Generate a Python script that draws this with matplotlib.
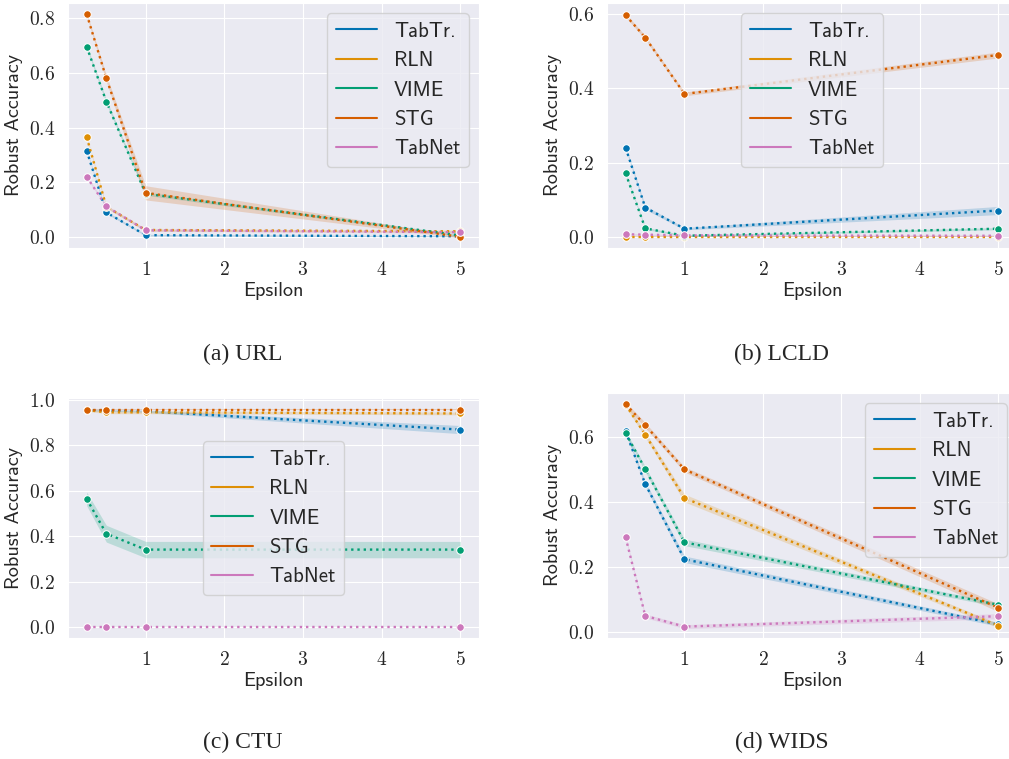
import numpy as np
import matplotlib.pyplot as plt
import seaborn as sns
from matplotlib.lines import Line2D

sns.set_style("darkgrid")
plt.rcParams["axes.formatter.use_mathtext"] = True

eps = [0.25, 0.5, 1, 5]
models = ["TabTr.", "RLN", "VIME", "STG", "TabNet"]
colors = sns.color_palette("colorblind", 5)

# robust accuracy, one row per model (TabTr., RLN, VIME, STG, TabNet)
url_acc = [[0.315, 0.089, 0.006, 0.002],
           [0.365, 0.110, 0.025, 0.020],
           [0.696, 0.495, 0.158, 0.005],
           [0.815, 0.580, 0.161, 0.000],
           [0.220, 0.111, 0.024, 0.017]]
url_ci = [[0.004, 0.004, 0.003, 0.002],
          [0.005, 0.005, 0.004, 0.004],
          [0.006, 0.008, 0.006, 0.004],
          [0.006, 0.012, 0.026, 0.004],
          [0.005, 0.005, 0.004, 0.004]]

lcld_acc = [[0.240, 0.079, 0.022, 0.071],
            [0.000, 0.000, 0.000, 0.000],
            [0.171, 0.023, 0.003, 0.022],
            [0.597, 0.537, 0.385, 0.490],
            [0.007, 0.006, 0.004, 0.003]]
lcld_ci = [[0.004, 0.005, 0.003, 0.011],
           [0.001, 0.001, 0.001, 0.001],
           [0.003, 0.003, 0.002, 0.003],
           [0.005, 0.005, 0.005, 0.008],
           [0.002, 0.002, 0.002, 0.002]]

ctu_acc = [[0.955, 0.953, 0.950, 0.869],
           [0.955, 0.945, 0.945, 0.940],
           [0.564, 0.411, 0.341, 0.341],
           [0.957, 0.957, 0.957, 0.957],
           [0.000, 0.000, 0.000, 0.000]]
ctu_ci = [[0.004, 0.004, 0.005, 0.018],
          [0.005, 0.006, 0.006, 0.006],
          [0.030, 0.037, 0.036, 0.036],
          [0.003, 0.003, 0.003, 0.003],
          [0.001, 0.001, 0.001, 0.001]]

wids_acc = [[0.618, 0.456, 0.225, 0.025],
            [0.700, 0.608, 0.413, 0.021],
            [0.613, 0.502, 0.277, 0.085],
            [0.702, 0.637, 0.501, 0.076],
            [0.292, 0.051, 0.018, 0.050]]
wids_ci = [[0.006, 0.008, 0.010, 0.006],
           [0.006, 0.008, 0.012, 0.006],
           [0.006, 0.008, 0.010, 0.006],
           [0.006, 0.008, 0.008, 0.012],
           [0.005, 0.006, 0.006, 0.008]]

panels = [
    ("(a) URL", url_acc, url_ci, (-0.041, 0.856), [0, 0.2, 0.4, 0.6, 0.8], "upper right"),
    ("(b) LCLD", lcld_acc, lcld_ci, (-0.030, 0.630), [0, 0.2, 0.4, 0.6], "upper center"),
    ("(c) CTU", ctu_acc, ctu_ci, (-0.048, 1.008), [0, 0.2, 0.4, 0.6, 0.8, 1.0], "center"),
    ("(d) WIDS", wids_acc, wids_ci, (-0.017, 0.736), [0, 0.2, 0.4, 0.6], "upper right"),
]

W, H = 1009, 759
# axes boxes in pixels: left, top, right, bottom
boxes = [(68, 3, 479, 248), (607, 3, 1017, 248),
         (68, 398, 479, 638), (607, 393, 1017, 638)]
caption_pos = [(243, 354), (782, 354), (243, 742), (782, 742)]

fig = plt.figure(figsize=(W / 100, H / 100), dpi=100)

for i, (title, acc, ci, ylim, yticks, loc) in enumerate(panels):
    l, t, r, b = boxes[i]
    ax = fig.add_axes([l / W, 1 - b / H, (r - l) / W, (b - t) / H])
    for k in range(len(models)):
        m = np.array(acc[k])
        e = np.array(ci[k])
        ax.fill_between(eps, m - e, m + e, color=colors[k], alpha=0.2, lw=0)
        ax.plot(eps, m, ls=":", lw=1.7, color=colors[k], marker="o",
                ms=5.5, mec="white", mew=0.75)
    ax.set_xlim(0.0125, 5.2375)
    ax.set_ylim(*ylim)
    ax.set_xticks([1, 2, 3, 4, 5])
    ax.set_yticks(yticks)
    ax.tick_params(labelsize=14, labelfontfamily="cmr10", pad=6)
    ax.set_xlabel("Epsilon", fontsize=14.5, family="cmss10", labelpad=2)
    ax.set_ylabel("Robust Accuracy", fontsize=14.5, family="cmss10")
    handles = [Line2D([], [], color=colors[k], lw=1.5) for k in range(len(models))]
    ax.legend(handles, models, loc=loc, prop={"family": "cmss10", "size": 15})
    cx, cy = caption_pos[i]
    fig.text(cx / W, 1 - cy / H, title, ha="center", va="center",
             fontsize=17, family="Liberation Serif")

plt.savefig("out.png", dpi=100)
